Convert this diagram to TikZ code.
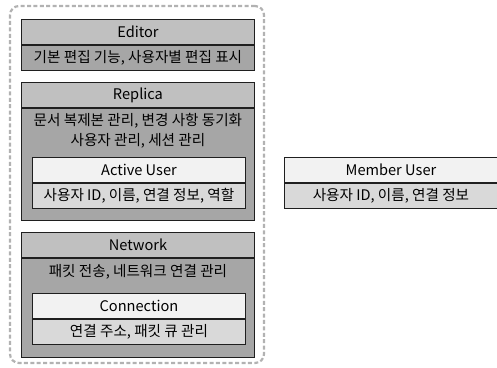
\documentclass[tikz,border=0pt]{standalone}
\usepackage{fontspec}
\setmainfont{Noto Sans CJK KR}
\usetikzlibrary{positioning}

\begin{document}
\begin{tikzpicture}[
  x=1pt, y=-1pt,
  font=\fontsize{14.6}{20}\selectfont,
  frame/.style={draw=black!30, line width=2.2pt, dash pattern=on 4pt off 2.4pt, rounded corners=9pt,
    minimum width=254pt, minimum height=357pt, inner sep=0pt},
  head/.style={draw=black!88, fill=HeadGray, line width=0.9pt, minimum width=233pt,
    minimum height=25pt, inner sep=0pt, anchor=north west},
  body/.style={draw=black!88, fill=BodyGray, line width=0.9pt, minimum width=233pt,
    minimum height=#1, inner sep=0pt, anchor=north},
  subhead/.style={draw=black!88, fill=SubHead, line width=0.9pt, minimum width=213pt,
    minimum height=25pt, inner sep=0pt, anchor=north west},
  subbody/.style={draw=black!88, fill=SubBody, line width=0.9pt, minimum width=213pt,
    minimum height=25pt, inner sep=0pt, anchor=north},
  note/.style={align=center, inner sep=0pt, anchor=north}
]
\definecolor{HeadGray}{HTML}{C0C0C0}
\definecolor{BodyGray}{HTML}{A6A6A6}
\definecolor{SubHead}{HTML}{F2F2F2}
\definecolor{SubBody}{HTML}{D9D9D9}

\useasboundingbox (0,0) rectangle (497,367);

% client side
\node[frame] (client) at (137,184.5) {};

\node[head] (editor) at (21,19) {Editor};
\node[body=25pt, below=0pt of editor] (editorbody) {기본 편집 기능, 사용자별 편집 표시};

\node[head] (replica) at (21,82) {Replica};
\node[body=112pt, below=0pt of replica] (replicabody) {};
\node[note, below=5pt of replica] (replicatext) {문서 복제본 관리, 변경 사항 동기화\\사용자 관리, 세션 관리};
\node[subhead] (active) at (32,157) {Active User};
\node[subbody, below=0pt of active] (activebody) {사용자 ID, 이름, 연결 정보, 역할};

\node[head] (network) at (21,232) {Network};
\node[body=99pt, below=0pt of network] (networkbody) {};
\node[note, below=6pt of network] (networktext) {패킷 전송, 네트워크 연결 관리};
\node[subhead] (conn) at (32,293) {Connection};
\node[subbody, below=0pt of conn] (connbody) {연결 주소, 패킷 큐 관리};

% other users
\node[subhead] (member) at (284,157) {Member User};
\node[subbody, below=0pt of member] (memberbody) {사용자 ID, 이름, 연결 정보};
\end{tikzpicture}
\end{document}
